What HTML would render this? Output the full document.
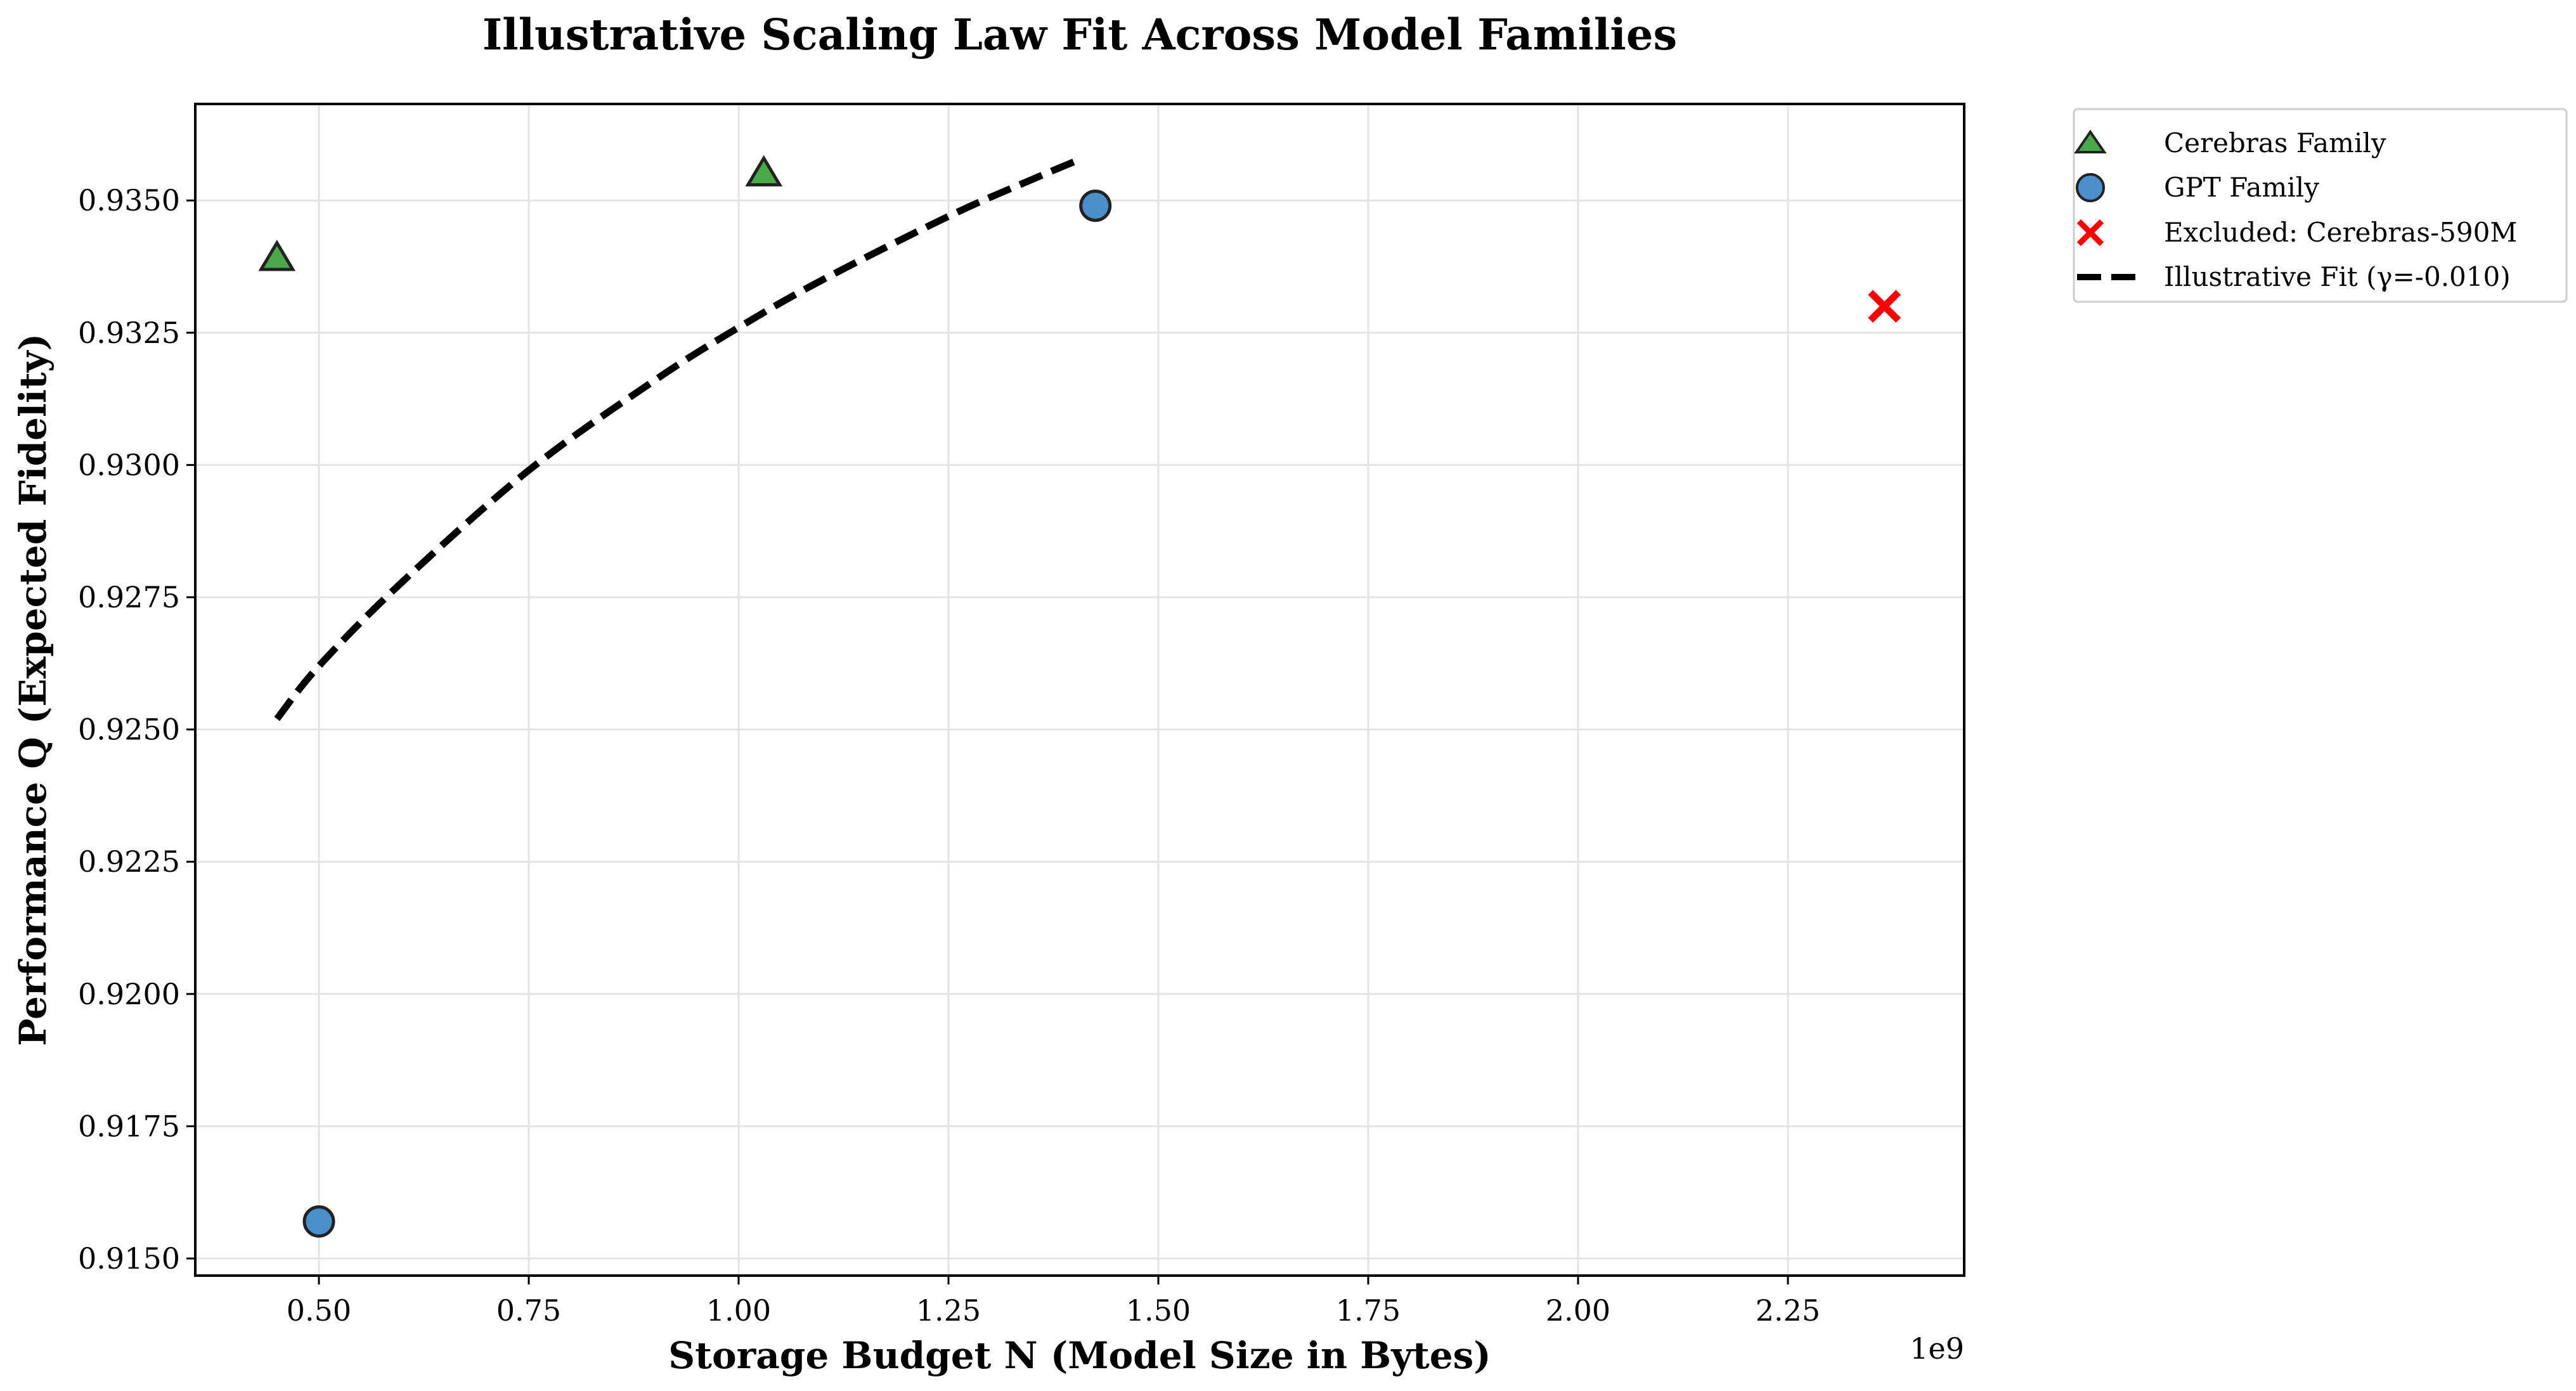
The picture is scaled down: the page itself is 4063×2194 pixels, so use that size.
<!DOCTYPE html>
<html><head><meta charset="utf-8"><style>
html,body{margin:0;padding:0;background:#fff;}
svg{display:block;font-family:"DejaVu Serif","Liberation Serif",serif;}
</style></head><body>
<svg id="chart" width="4063" height="2194" viewBox="0 0 4063 2194" xmlns="http://www.w3.org/2000/svg">
<rect width="4063" height="2194" fill="#fff"/>
<text x="1703" y="78" text-anchor="middle" font-size="67" font-weight="bold">Illustrative Scaling Law Fit Across Model Families</text>
<g id="grid"></g>
<g id="marks"></g>
<rect x="308" y="164" width="2790" height="1848" fill="none" stroke="#000" stroke-width="4"/>
<g id="ticks"></g>
<text x="1703" y="2158" text-anchor="middle" font-size="58" font-weight="bold">Storage Budget N (Model Size in Bytes)</text>
<text x="3098" y="2143" text-anchor="end" font-size="46">1e9</text>
<text transform="translate(72,1088) rotate(-90)" text-anchor="middle" font-size="58" font-weight="bold">Performance Q (Expected Fidelity)</text>
<g>
<rect x="3271" y="172" width="777" height="304" rx="6" fill="#fff" stroke="#ccc" stroke-width="3"/>
<g><polygon points="3297,208 3319,240 3275,240" fill="#4aa84a" stroke="#222" stroke-width="4"/><text x="3413" y="240" font-size="42">Cerebras Family</text></g>
<g><circle cx="3297" cy="296" r="21" fill="#4a8fcc" stroke="#222" stroke-width="4"/><text x="3413" y="310" font-size="42">GPT Family</text></g>
<g><path d="M3279,349 L3315,385 M3315,349 L3279,385" stroke="#f00" stroke-width="9"/><text x="3413" y="381" font-size="42">Excluded: Cerebras-590M</text></g>
<g><line x1="3276" y1="437" x2="3380" y2="437" stroke="#000" stroke-width="10" stroke-dasharray="38,16"/><text x="3413" y="451" font-size="42">Illustrative Fit (γ=-0.010)</text></g>
</g>
</svg>
<script>
const cerebrasX=[0.45,1.03];
const cerebrasY=[0.9339,0.9355];
const gptX=[0.50,1.425];
const gptY=[0.9157,0.9349];
const excludedX=[2.365];
const excludedY=[0.9330];
const fitX=[0.45,0.5,0.6,0.75,0.9,1.0,1.1,1.25,1.35,1.41];
const fitY=[0.9252,0.9262,0.9278,0.9299,0.9316,0.9326,0.9335,0.9347,0.9354,0.9358];
const xTicks=[0.5,0.75,1.0,1.25,1.5,1.75,2.0,2.25];
const xTickLabels=["0.50","0.75","1.00","1.25","1.50","1.75","2.00","2.25"];
const yTicks=[0.915,0.9175,0.92,0.9225,0.925,0.9275,0.93,0.9325,0.935];
const yTickLabels=["0.9150","0.9175","0.9200","0.9225","0.9250","0.9275","0.9300","0.9325","0.9350"];
const NS="http://www.w3.org/2000/svg";
function sx(v){return 503+(v-0.5)/0.25*331;}
function sy(v){return 1985-(v-0.915)/0.0025*208.6;}
function mk(t,a,p){const e=document.createElementNS(NS,t);for(const k in a)e.setAttribute(k,a[k]);p.appendChild(e);return e;}
const grid=document.getElementById('grid'),marks=document.getElementById('marks'),ticks=document.getElementById('ticks');
xTicks.forEach((v,i)=>{
 const g=mk('line',{x1:sx(v),x2:sx(v),y1:164,y2:2012,stroke:'#e3e3e3','stroke-width':3},grid);
 
 
 const t=mk('line',{x1:sx(v),x2:sx(v),y1:2012,y2:2026,stroke:'#000','stroke-width':3},ticks);
 
 
 const l=mk('text',{x:sx(v),y:2083,'text-anchor':'middle','font-size':46},ticks);
 l.textContent=xTickLabels[i];
 
 
});
yTicks.forEach((v,i)=>{
 const g=mk('line',{x1:308,x2:3098,y1:sy(v),y2:sy(v),stroke:'#e3e3e3','stroke-width':3},grid);
 
 
 const t=mk('line',{x1:294,x2:308,y1:sy(v),y2:sy(v),stroke:'#000','stroke-width':3},ticks);
 
 
 const l=mk('text',{x:284,y:sy(v)+16,'text-anchor':'end','font-size':46},ticks);
 l.textContent=yTickLabels[i];
 
 
});
const pts=fitX.map((x,i)=>[sx(x),sy(fitY[i])]);
let d='M'+pts[0][0]+','+pts[0][1];
for(let i=0;i<pts.length-1;i++){
 const p0=pts[Math.max(0,i-1)],p1=pts[i],p2=pts[i+1],p3=pts[Math.min(pts.length-1,i+2)];
 const c1=[p1[0]+(p2[0]-p0[0])/6,p1[1]+(p2[1]-p0[1])/6];
 const c2=[p2[0]-(p3[0]-p1[0])/6,p2[1]-(p3[1]-p1[1])/6];
 d+=` C${c1[0]},${c1[1]} ${c2[0]},${c2[1]} ${p2[0]},${p2[1]}`;
}
const fit=mk('path',{d:d,fill:'none',stroke:'#000','stroke-width':11,'stroke-dasharray':'38,16'},marks);


cerebrasX.forEach((x,i)=>{
 const cx=sx(x),cy=sy(cerebrasY[i]);
 const p=mk('polygon',{points:`${cx},${cy-25} ${cx+25},${cy+17} ${cx-25},${cy+17}`,fill:'#4aa84a',stroke:'#222','stroke-width':5},marks);
 
 
});
gptX.forEach((x,i)=>{
 const c=mk('circle',{cx:sx(x),cy:sy(gptY[i]),r:23,fill:'#4a8fcc',stroke:'#222','stroke-width':5},marks);
 
 
});
excludedX.forEach((x,i)=>{
 const cx=sx(x),cy=sy(excludedY[i]);
 const p=mk('path',{d:`M${cx-22},${cy-22}L${cx+22},${cy+22}M${cx+22},${cy-22}L${cx-22},${cy+22}`,stroke:'#f00','stroke-width':11},marks);
 
 
});
</script>
</body></html>
